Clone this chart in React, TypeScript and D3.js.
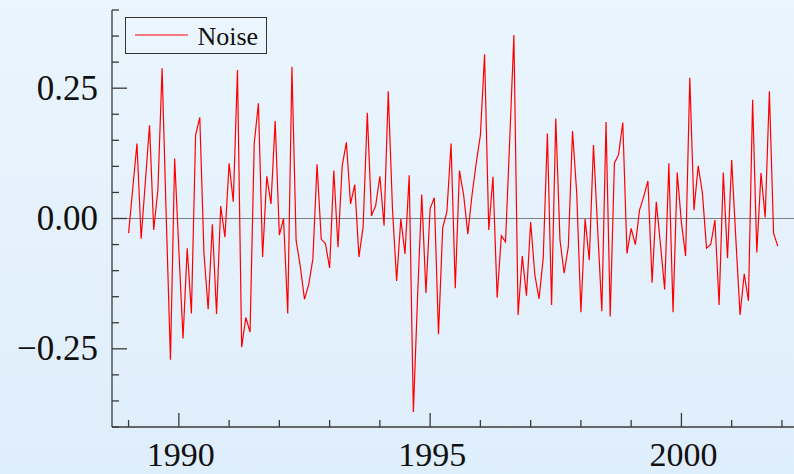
import { useRef, useEffect } from "react";
import * as d3 from "d3";

// monthly noise, Jan 1989 .. Dec 2001
const startYear = 1989;
const noise = [
  -0.028, 0.058, 0.144, -0.039, 0.07, 0.179, -0.022, 0.055, 0.288, 0.0, -0.271, 0.115,
  -0.06, -0.23, -0.057, -0.182, 0.16, 0.194, -0.067, -0.174, -0.011, -0.183, 0.024, -0.036,
  0.106, 0.032, 0.285, -0.247, -0.19, -0.218, 0.144, 0.221, -0.074, 0.081, 0.028, 0.187,
  -0.032, 0.0, -0.182, 0.291, -0.042, -0.092, -0.155, -0.127, -0.078, 0.104, -0.04, -0.048,
  -0.095, 0.092, -0.055, 0.101, 0.146, 0.028, 0.065, -0.074, -0.016, 0.203, 0.005, 0.025,
  0.081, -0.014, 0.244, 0.02, -0.12, -0.001, -0.068, 0.083, -0.371, -0.15, 0.046, -0.143,
  0.019, 0.04, -0.222, -0.018, 0.013, 0.144, -0.134, 0.092, 0.045, -0.03, 0.045, 0.106,
  0.16, 0.315, -0.022, 0.08, -0.152, -0.033, -0.045, 0.15, 0.352, -0.185, -0.072, -0.148,
  -0.007, -0.108, -0.154, -0.076, 0.163, -0.166, 0.192, -0.041, -0.105, -0.054, 0.168, 0.049,
  -0.18, -0.001, -0.08, 0.141, -0.02, -0.178, 0.185, -0.188, 0.106, 0.123, 0.184, -0.067,
  -0.019, -0.05, 0.016, 0.042, 0.072, -0.123, 0.032, -0.05, -0.136, 0.106, -0.18, 0.088,
  -0.008, -0.072, 0.27, 0.016, 0.101, 0.05, -0.057, -0.05, -0.003, -0.166, 0.088, -0.076,
  0.112, -0.04, -0.185, -0.106, -0.158, 0.228, -0.065, 0.087, 0.002, 0.244, -0.028, -0.053,
];

const xMajorTicks = [1990, 1995, 2000];
const xMinorTicks = d3.range(1989, 2003);
const yMajorTicks = [-0.25, 0, 0.25];
const yMinorTicks = d3.range(-0.4, 0.401, 0.05);

const W = 794;
const H = 474;

export default function App() {
  const svgRef = useRef<SVGSVGElement | null>(null);

  useEffect(() => {
    if (!svgRef.current) return;
    const svg = d3.select(svgRef.current);
    svg.selectAll("*").remove();

    const left = 112;
    const bottom = 427;
    const top = 10;

    const x = d3.scaleLinear().domain([1988.67, 2002.24]).range([left, W]);
    const y = d3.scaleLinear().domain([-0.4, 0.4]).range([bottom, top]);

    const data = noise.map((v, i) => ({ t: startYear + i / 12, v }));

    // background
    const defs = svg.append("defs");
    const grad = defs
      .append("linearGradient")
      .attr("id", "bg")
      .attr("x1", 0)
      .attr("y1", 0)
      .attr("x2", 0)
      .attr("y2", 1);
    grad.append("stop").attr("offset", "0%").attr("stop-color", "#eaf5fd");
    grad.append("stop").attr("offset", "100%").attr("stop-color", "#dfeefc");
    svg.append("rect").attr("width", W).attr("height", H).attr("fill", "url(#bg)");

    // zero line
    svg
      .append("line")
      .attr("x1", left)
      .attr("x2", W)
      .attr("y1", y(0))
      .attr("y2", y(0))
      .attr("stroke", "#808080")
      .attr("stroke-width", 1);

    // series
    const line = d3
      .line<{ t: number; v: number }>()
      .x((d) => x(d.t))
      .y((d) => y(d.v));

    svg
      .append("path")
      .datum(data)
      .attr("d", line)
      .attr("fill", "none")
      .attr("stroke", "#ff0000")
      .attr("stroke-width", 1.2)
      .attr("stroke-linejoin", "miter");

    const axisColor = "#3a3a3a";

    // axes lines
    svg
      .append("line")
      .attr("x1", left)
      .attr("x2", left)
      .attr("y1", top)
      .attr("y2", bottom)
      .attr("stroke", axisColor)
      .attr("stroke-width", 1.3);
    svg
      .append("line")
      .attr("x1", left)
      .attr("x2", W)
      .attr("y1", bottom)
      .attr("y2", bottom)
      .attr("stroke", axisColor)
      .attr("stroke-width", 1.3);

    // x ticks
    svg
      .append("g")
      .selectAll("line")
      .data(xMinorTicks)
      .enter()
      .append("line")
      .attr("x1", (d) => x(d))
      .attr("x2", (d) => x(d))
      .attr("y1", bottom)
      .attr("y2", (d) => bottom - (xMajorTicks.includes(d) ? 14 : 7))
      .attr("stroke", axisColor)
      .attr("stroke-width", 1.3);

    svg
      .append("g")
      .selectAll("text")
      .data(xMajorTicks)
      .enter()
      .append("text")
      .attr("x", (d) => x(d) + 2)
      .attr("y", 466)
      .attr("text-anchor", "middle")
      .attr("font-family", "'Liberation Serif', 'Times New Roman', serif")
      .attr("font-size", "34px")
      .attr("fill", "#111")
      .text((d) => String(d));

    // y ticks
    svg
      .append("g")
      .selectAll("line")
      .data(yMinorTicks)
      .enter()
      .append("line")
      .attr("x1", left)
      .attr("x2", (d) => left + (yMajorTicks.some((m) => Math.abs(m - d) < 1e-6) ? 15 : 7))
      .attr("y1", (d) => y(d))
      .attr("y2", (d) => y(d))
      .attr("stroke", axisColor)
      .attr("stroke-width", 1.3);

    const fmt = (d: number) => (d < 0 ? "\u2212" : "") + Math.abs(d).toFixed(2);
    svg
      .append("g")
      .selectAll("text")
      .data(yMajorTicks)
      .enter()
      .append("text")
      .attr("x", 98)
      .attr("y", (d) => y(d))
      .attr("dy", "0.33em")
      .attr("text-anchor", "end")
      .attr("font-family", "'Liberation Serif', 'Times New Roman', serif")
      .attr("font-size", "35px")
      .attr("fill", "#111")
      .text(fmt);

    // legend
    const lg = svg.append("g");
    lg.append("rect")
      .attr("x", 125.5)
      .attr("y", 17.5)
      .attr("width", 141)
      .attr("height", 36)
      .attr("fill", "#eaf5fd")
      .attr("stroke", "#333")
      .attr("stroke-width", 1);
    lg.append("line")
      .attr("x1", 135)
      .attr("x2", 188)
      .attr("y1", 35)
      .attr("y2", 35)
      .attr("stroke", "#ff0000")
      .attr("stroke-width", 1.2);
    lg.append("text")
      .attr("x", 197.5)
      .attr("y", 44.5)
      .attr("font-family", "'Liberation Serif', 'Times New Roman', serif")
      .attr("font-size", "26px")
      .attr("fill", "#111")
      .text("Noise");
  }, []);

  return (
    <svg
      ref={svgRef}
      width={W}
      height={H}
      style={{ position: "absolute", left: 0, top: 0, display: "block" }}
    />
  );
}
